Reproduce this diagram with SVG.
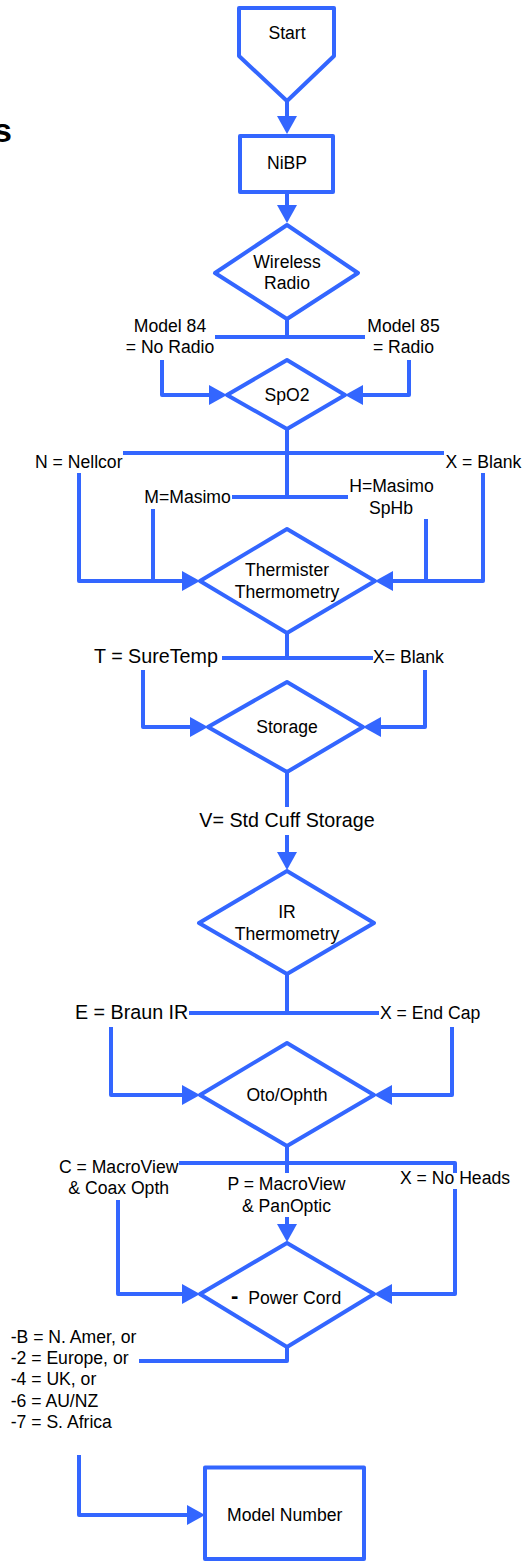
<svg xmlns="http://www.w3.org/2000/svg" width="522" height="1562" viewBox="0 0 522 1562">
<style>
.s{fill:none;stroke:#3366ff;stroke-width:4;stroke-linejoin:round;stroke-linecap:butt}
.n{fill:#fff;stroke:#3366ff;stroke-width:4;stroke-linejoin:round}
text{font-family:"Liberation Sans",Arial,Helvetica,sans-serif;font-size:17.6px;fill:#000}
.m{text-anchor:middle}
.b{font-size:19.7px}
</style>
<defs>
<marker id="ah" markerUnits="userSpaceOnUse" markerWidth="18" markerHeight="20" refX="0" refY="10" orient="auto" overflow="visible">
<path d="M0,0 L18,10 L0,20 z" fill="#3366ff"/>
</marker>
</defs>
<rect width="522" height="1562" fill="#fff"/>
<text x="-7" y="142" style="font-size:34px;font-weight:bold">s</text>

<g id="connectors">
<path class="s" d="M287,101 V116" marker-end="url(#ah)"/>
<path class="s" d="M287,192 V205" marker-end="url(#ah)"/>
<path class="s" d="M287,319 V337 M215,337 H365"/>
<path class="s" d="M162,360 V395 H209" marker-end="url(#ah)"/>
<path class="s" d="M409,360 V395 H363" marker-end="url(#ah)"/>
<path class="s" d="M287,429 V497 M123,453 H444 M232,497 H348"/>
<path class="s" d="M79,473 V581 H182" marker-end="url(#ah)"/>
<path class="s" d="M153,509 V581"/>
<path class="s" d="M483,473 V581 H393" marker-end="url(#ah)"/>
<path class="s" d="M426,519 V581"/>
<path class="s" d="M287,633 V658 M222,658 H373"/>
<path class="s" d="M143,670 V727 H190" marker-end="url(#ah)"/>
<path class="s" d="M425,670 V727 H381" marker-end="url(#ah)"/>
<path class="s" d="M287,772 V807"/>
<path class="s" d="M287,835 V852" marker-end="url(#ah)"/>
<path class="s" d="M287,974 V1013 M189,1013 H379"/>
<path class="s" d="M111,1027 V1095 H182" marker-end="url(#ah)"/>
<path class="s" d="M452,1027 V1095 H392" marker-end="url(#ah)"/>
<path class="s" d="M287,1146 V1173 M179,1163 H455 V1173"/>
<path class="s" d="M455,1189 V1294 H392" marker-end="url(#ah)"/>
<path class="s" d="M118,1200 V1294 H182" marker-end="url(#ah)"/>
<path class="s" d="M287,1217 V1224" marker-end="url(#ah)"/>
<path class="s" d="M287,1347 V1361 H139"/>
<path class="s" d="M79,1455 V1515 H187" marker-end="url(#ah)"/>
</g>

<g id="start">
<polygon class="n" points="239,8 334,8 334,56 287,101 239,56"/>
<text class="m" x="287" y="39">Start</text>
</g>
<g id="nibp">
<rect class="n" x="240" y="136" width="93" height="56"/>
<text class="m" x="287" y="169">NiBP</text>
</g>
<g id="wireless">
<polygon class="n" points="287,225 358,273 287,319 215,273"/>
<text class="m" x="287" y="267.5">Wireless</text>
<text class="m" x="287" y="289">Radio</text>
</g>
<g id="radio-labels">
<text class="m" x="170" y="332.3">Model 84</text>
<text class="m" x="170" y="353.3">= No Radio</text>
<text class="m" x="403.5" y="332.3">Model 85</text>
<text class="m" x="403.5" y="353.3">= Radio</text>
</g>
<g id="spo2">
<polygon class="n" points="287,360 345,395 287,429 227,395"/>
<text class="m" x="287" y="401">SpO2</text>
</g>
<g id="spo2-labels">
<text x="35" y="468.3">N = Nellcor</text>
<text x="445.5" y="468.3">X = Blank</text>
<text x="144.3" y="503.3">M=Masimo</text>
<text class="m" x="391.5" y="492.3">H=Masimo</text>
<text class="m" x="391" y="514.3">SpHb</text>
</g>
<g id="thermister">
<polygon class="n" points="287,529 375,581 287,633 200,581"/>
<text class="m" x="287" y="576">Thermister</text>
<text class="m" x="287" y="598">Thermometry</text>
</g>
<g id="thermister-labels">
<text class="b" x="94" y="663.3">T = SureTemp</text>
<text x="373" y="663.3">X= Blank</text>
</g>
<g id="storage">
<polygon class="n" points="287,682 363,727 287,772 208,727"/>
<text class="m" x="287" y="732.7">Storage</text>
</g>
<g id="storage-label">
<text class="m b" x="287" y="827.3">V= Std Cuff Storage</text>
</g>
<g id="ir">
<polygon class="n" points="287,871 374,923 287,974 199,923"/>
<text class="m" x="287" y="918.3">IR</text>
<text class="m" x="287" y="940">Thermometry</text>
</g>
<g id="ir-labels">
<text class="b" x="75" y="1019">E = Braun IR</text>
<text x="380" y="1019">X = End Cap</text>
</g>
<g id="oto">
<polygon class="n" points="287,1043 374,1095 287,1146 200,1095"/>
<text class="m" x="287" y="1100.7">Oto/Ophth</text>
</g>
<g id="oto-labels">
<text class="m" x="118.7" y="1173.3">C = MacroView</text>
<text class="m" x="118.7" y="1194">&amp; Coax Opth</text>
<text class="m" x="286.5" y="1190">P = MacroView</text>
<text class="m" x="286.5" y="1211.5">&amp; PanOptic</text>
<text x="400" y="1184">X = No Heads</text>
</g>
<g id="powercord">
<polygon class="n" points="287,1243 374,1294 287,1347 200,1294"/>
<text x="231" y="1302.5" style="font-size:22px;font-weight:bold">-</text>
<text x="248.3" y="1303.7">Power Cord</text>
</g>
<g id="powercord-labels">
<text x="10.7" y="1342.7">-B = N. Amer, or</text>
<text x="10.7" y="1364">-2 = Europe, or</text>
<text x="10.7" y="1385.3">-4 = UK, or</text>
<text x="10.7" y="1406.7">-6 = AU/NZ</text>
<text x="10.7" y="1428">-7 = S. Africa</text>
</g>
<g id="model-number">
<rect class="n" x="205" y="1467.5" width="159" height="91.5"/>
<text class="m" x="284.7" y="1520.7">Model Number</text>
</g>
</svg>
